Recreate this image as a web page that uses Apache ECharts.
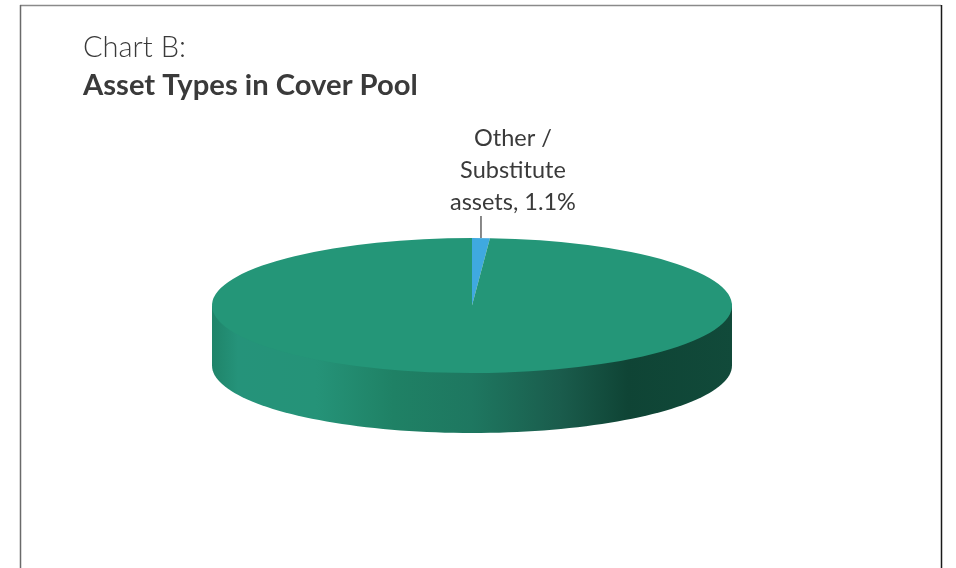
<!DOCTYPE html>
<html>
<head>
<meta charset="utf-8">
<style>html,body{margin:0;padding:0;background:#fff}#c{width:956px;height:568px}</style>
<script src="https://cdn.jsdelivr.net/npm/echarts@6/dist/echarts.min.js"></script>
</head>
<body>
<div id="c"></div>
<script>
const categories = ['Other /\nSubstitute\nassets, 1.1%', 'Residential mortgages'];
const values = [1.1, 98.9];
const colors = ['#3fa9e0', '#249678'];
const titleLine1 = 'Chart B:';
const titleLine2 = 'Asset Types in Cover Pool';

const FONT = 'Lato, "Noto Sans", sans-serif';
const INK = '#3a3a3a';
const CX = 472, CY = 305.5, RX = 260, RY = 67.5, DEPTH = 60;
const total = values.reduce((a, b) => a + b, 0);

function sliceAngles(i) {
  let before = 0;
  for (let k = 0; k < i; k++) before += values[k];
  const start = -Math.PI / 2 + before / total * Math.PI * 2;
  return [start, start + values[i] / total * Math.PI * 2];
}

function renderWall() {
  const pts = [];
  for (let d = 0; d <= 180; d += 2) {
    const a = d * Math.PI / 180;
    pts.push([CX + RX * Math.cos(a), CY + DEPTH + RY * Math.sin(a)]);
  }
  pts.push([CX - RX, CY], [CX + RX, CY]);
  return {
    type: 'polygon',
    shape: { points: pts },
    style: {
      fill: new echarts.graphic.LinearGradient(0, 0, 1, 0, [
        { offset: 0, color: '#1f8469' },
        { offset: 0.05, color: '#25937a' },
        { offset: 0.2, color: '#259378' },
        { offset: 0.35, color: '#1f8165' },
        { offset: 0.5, color: '#1e7760' },
        { offset: 0.67, color: '#1a5c4c' },
        { offset: 0.8, color: '#0f4435' },
        { offset: 1, color: '#114a3a' }
      ])
    }
  };
}

function renderTop(params) {
  const [s, e] = sliceAngles(params.dataIndex);
  const children = [{
    type: 'sector',
    x: CX, y: CY, scaleY: RY / RX,
    shape: { cx: 0, cy: 0, r0: 0, r: RX, startAngle: s, endAngle: e, clockwise: true },
    style: { fill: colors[params.dataIndex] }
  }];
  return { type: 'group', children };
}

function renderLabel(params) {
  const [s, e] = sliceAngles(params.dataIndex);
  if (values[params.dataIndex] > 50) return { type: 'group', children: [] };
  const mid = (s + e) / 2;
  const x = CX + RX * Math.cos(mid), y = CY + RY * Math.sin(mid);
  return {
    type: 'group',
    children: [
      { type: 'line', shape: { x1: x, y1: y, x2: x, y2: y - 22 }, style: { stroke: INK, lineWidth: 1.2 } },
      { type: 'text', x: x + 32, y: y - 20,
        style: { text: categories[params.dataIndex], textAlign: 'center', textVerticalAlign: 'bottom',
          font: '23.5px ' + FONT, lineHeight: 32, fill: INK } }
    ]
  };
}

const chart = echarts.init(document.getElementById('c'), null, { renderer: 'canvas' });
const seriesData = categories.map((n, i) => ({ name: n, value: values[i] }));
chart.setOption({
  animation: false,
  backgroundColor: '#ffffff',
  title: [
    { text: titleLine1, left: 78, top: 28, textStyle: { fontFamily: FONT, fontSize: 29, fontWeight: 300, color: INK } },
    { text: titleLine2, left: 78, top: 66, textStyle: { fontFamily: FONT, fontSize: 29.2, fontWeight: 700, color: INK } }
  ],
  graphic: [
    { type: 'line', shape: { x1: 20, y1: 5.5, x2: 941, y2: 5.5 }, style: { stroke: '#8a8a8a', lineWidth: 1.5 } },
    { type: 'line', shape: { x1: 20.5, y1: 5, x2: 20.5, y2: 568 }, style: { stroke: '#6a6a6a', lineWidth: 1.5 } },
    { type: 'line', shape: { x1: 941.5, y1: 5, x2: 941.5, y2: 568 }, style: { stroke: '#1a1a1a', lineWidth: 1.5 } }
  ],
  series: [
    { type: 'custom', coordinateSystem: 'none', silent: true, z: 1, data: [total], renderItem: renderWall },
    { type: 'custom', coordinateSystem: 'none', silent: true, z: 2, data: seriesData, renderItem: renderTop },
    { type: 'custom', coordinateSystem: 'none', silent: true, z: 3, data: seriesData, renderItem: renderLabel }
  ]
});
</script>
</body>
</html>
